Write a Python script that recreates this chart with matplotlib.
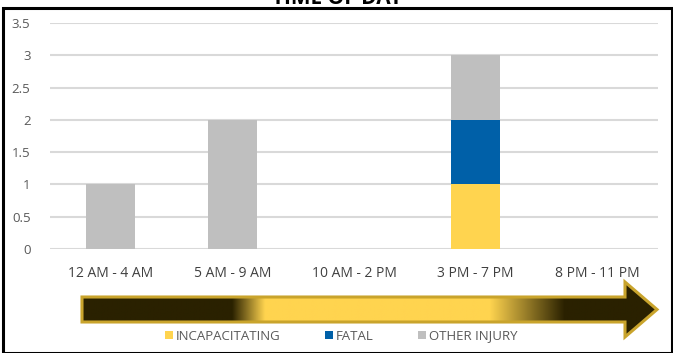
import numpy as np
import matplotlib.pyplot as plt
from matplotlib.patches import Polygon, Rectangle
from matplotlib.colors import to_rgb

categories = ['12 AM - 4 AM', '5 AM - 9 AM', '10 AM - 2 PM', '3 PM - 7 PM', '8 PM - 11 PM']
incapacitating = [0, 0, 0, 1, 0]
fatal = [0, 0, 0, 1, 0]
other_injury = [1, 2, 0, 1, 0]

YELLOW = '#FFD44F'
BLUE = '#0060A8'
GREY = '#BFBFBF'
DARK = '#2A2100'
GOLD = '#C9A42C'
TXT = '#595959'

plt.rcParams['font.family'] = ['Open Sans', 'DejaVu Sans']

W, H = 673, 353
fig = plt.figure(figsize=(W / 100, H / 100), dpi=100)

# main chart
ax = fig.add_axes([50 / W, 1 - 249 / H, 608 / W, 226 / H])
x = np.arange(len(categories))
ax.bar(x, incapacitating, width=0.4, color=YELLOW, label='INCAPACITATING', zorder=3)
ax.bar(x, fatal, width=0.4, bottom=incapacitating, color=BLUE, label='FATAL', zorder=3)
base2 = [a + b for a, b in zip(incapacitating, fatal)]
ax.bar(x, other_injury, width=0.4, bottom=base2, color=GREY, label='OTHER INJURY', zorder=3)
ax.set_xlim(-0.5, len(categories) - 0.5)
ax.set_ylim(0, 3.5)
ax.set_yticks(np.arange(0, 3.51, 0.5))
ax.set_yticklabels(['0', '0.5', '1', '1.5', '2', '2.5', '3', '3.5'])
ax.set_xticks(x)
ax.set_xticklabels(categories)
ax.yaxis.grid(True, color='#D9D9D9', linewidth=1.5, zorder=0)
for s in ax.spines.values():
    s.set_visible(False)
ax.tick_params(axis='y', length=0, labelsize=9.5, labelcolor=TXT, pad=14)
ax.tick_params(axis='x', length=0, labelsize=10, labelcolor='#404040', pad=12)

# overlay in pixel coords for frame, arrow, title
ov = fig.add_axes([0, 0, 1, 1], zorder=-1)
ov.set_xlim(0, W)
ov.set_ylim(H, 0)
ov.axis('off')

# gradient arrow
x0, x1, xh = 82, 657, 625
body_t, body_b = 297, 322
head_t, head_b = 282, 337
ymid = (body_t + body_b) / 2
pts = [(x0, body_t), (xh, body_t), (xh, head_t), (x1, ymid),
       (xh, head_b), (xh, body_b), (x0, body_b)]
cols = np.linspace(x0, x1, 600)
dark = np.array(to_rgb(DARK))
yel = np.array(to_rgb(YELLOW))
t = np.interp(cols, [x0, 232, 265, 490, 565, x1], [0, 0, 1, 1, 0, 0])
grad = dark[None, :] * (1 - t[:, None]) + yel[None, :] * t[:, None]
img = ov.imshow(grad[None, :, :], extent=[x0, x1, head_b, head_t], aspect='auto', zorder=2)
arrow = Polygon(pts, closed=True, facecolor='none', edgecolor=GOLD, linewidth=2.2, zorder=3)
ov.add_patch(arrow)
img.set_clip_path(arrow)

fig.patches.append(Rectangle((3 / W, 0), 669 / W, 1 - 8 / H, transform=fig.transFigure,
                             fill=False, edgecolor='black', linewidth=2.2, zorder=5))

# title sits mostly above the canvas, as in the source export
fig.text(337 / W, 1 + 1 / H, 'TIME OF DAY', ha='center', va='center',
         fontsize=15, fontweight='bold', color='black')

handles, labels = ax.get_legend_handles_labels()
fig.legend(handles, labels, loc='center', bbox_to_anchor=(341 / W, 1 - 336 / H), ncol=3,
           frameon=False, fontsize=9.5, handlelength=0.6, handleheight=0.6,
           handletextpad=0.2, columnspacing=3.4, labelcolor=TXT)

fig.savefig('out.png', dpi=100)
